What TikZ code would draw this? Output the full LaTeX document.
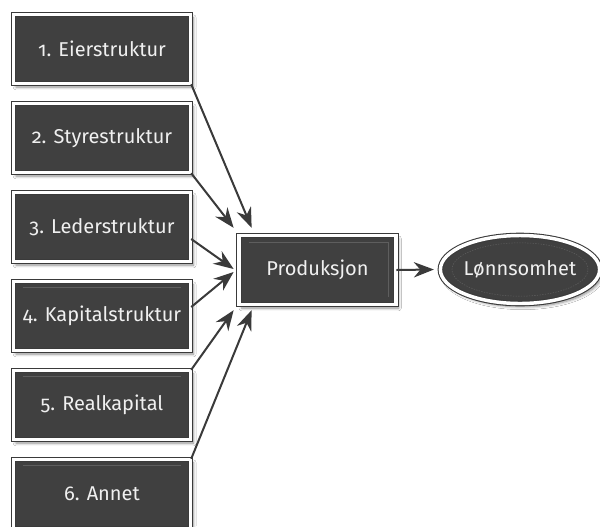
\documentclass[tikz,border=0pt]{standalone}
\usepackage{fontspec}
\setmainfont[Numbers=OldStyle]{Fira Sans}
\usetikzlibrary{arrows.meta,shadows.blur,shapes.geometric,calc}
\definecolor{boxfill}{HTML}{404040}
\definecolor{boxline}{HTML}{3A3A3A}
\definecolor{arrowcol}{HTML}{3A3A3A}
\definecolor{decoline}{HTML}{5E5E5E}
\tikzset{
  factor/.style={rectangle, draw=boxline, line width=0.8pt, double=white, double distance=2.6pt,
    fill=boxfill, text=white!94!black, minimum width=133pt, minimum height=52pt,
    inner sep=0pt, font=\fontsize{15pt}{18pt}\selectfont,
    blur shadow={shadow xshift=2pt, shadow yshift=-2.5pt, shadow blur steps=6, shadow opacity=45}},
  topdeco/.style={path picture={\draw[draw=decoline, line width=0.4pt]
    ([shift={(7pt,-4.5pt)}]path picture bounding box.north west) --
    ([shift={(-7pt,-4.5pt)}]path picture bounding box.north east);}},
  prodbox/.style={factor, minimum width=117.5pt, minimum height=52pt,
    path picture={\draw[draw=decoline, line width=0.4pt]
    ([shift={(7pt,-5pt)}]path picture bounding box.north west) --
    ([shift={(-6pt,-5pt)}]path picture bounding box.north east) --
    ([shift={(-6pt,6pt)}]path picture bounding box.south east);}},
  resultell/.style={ellipse, draw=boxline, line width=0.8pt, double=white, double distance=2.6pt,
    fill=boxfill, text=white!94!black, minimum width=115pt, minimum height=51pt,
    inner sep=0pt, font=\fontsize{15pt}{18pt}\selectfont,
    blur shadow={shadow xshift=2pt, shadow yshift=-2.5pt, shadow blur steps=6, shadow opacity=45},
    path picture={\draw[draw=decoline, line width=0.4pt, dash pattern=on 1pt off 1pt]
    (path picture bounding box.center) ellipse [x radius=51pt, y radius=20pt];}},
  link/.style={draw=arrowcol, line width=1.5pt, -{Stealth[length=15pt,width=11.5pt]}}
}
\begin{document}
\begin{tikzpicture}[x=0.75pt,y=-0.75pt]
\useasboundingbox (0,0) rectangle (600,526);
\fill[white] (0,0) rectangle (600,526);
\node[factor] (f1) at (102,49) {1. Eierstruktur};
\node[factor] (f2) at (102,138) {2. Styrestruktur};
\node[factor] (f3) at (102,227) {3. Lederstruktur};
\node[factor, topdeco] (f4) at (102,316) {4. Kapitalstruktur};
\node[factor, topdeco] (f5) at (102,405) {5. Realkapital};
\node[factor, topdeco] (f6) at (102,494) {6. Annet};
\node[prodbox] (p) at (317.5,270) {Produksjon};
\node[resultell] (r) at (520,269.5) {Lønnsomhet};
% arrow targets
\coordinate (t1) at ($(p.north west)+(13,-7)$);
\coordinate (t2) at ($(p.north west)+(-5,-7)$);
\coordinate (t3) at ($(p.west)+(-5,-1)$);
\coordinate (t4) at ($(p.west)+(-5,2)$);
\coordinate (t5) at ($(p.south west)+(-5,5)$);
\coordinate (t6) at ($(p.south west)+(13,5)$);
\coordinate (tr) at ($(r.west)+(-6,0)$);
\draw[link] (f1.south east) -- (t1);
\draw[link] (f2.south east) -- (t2);
\draw[link] ($(f3.east)+(0,12)$) -- (t3);
\draw[link] ($(f4.east)+(0,-9)$) -- (t4);
\draw[link] (f5.north east) -- (t5);
\draw[link] (f6.north east) -- (t6);
\draw[link] (p.east) -- (tr);
\end{tikzpicture}
\end{document}
